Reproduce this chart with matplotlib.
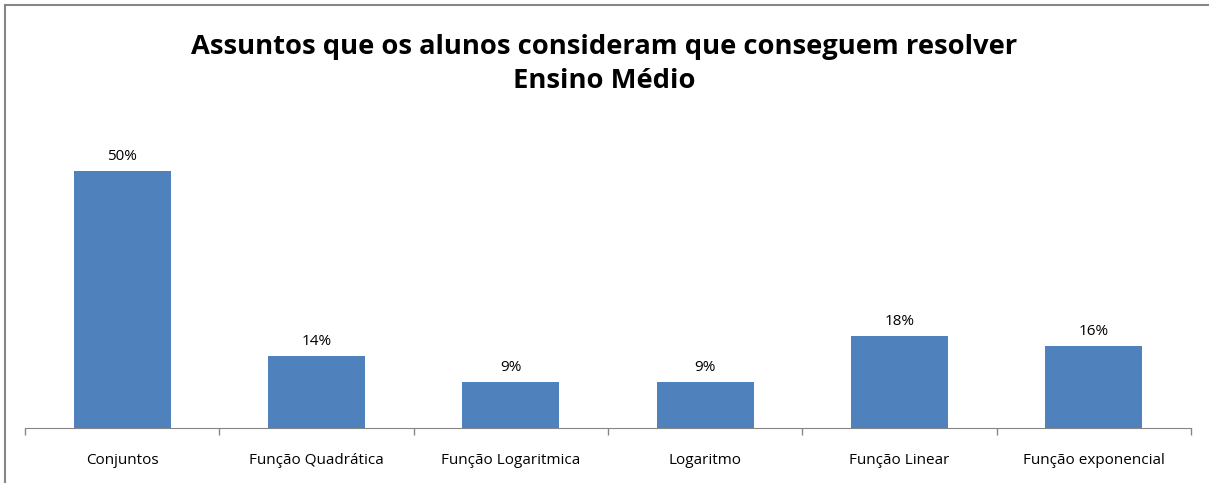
import matplotlib.pyplot as plt
from matplotlib.lines import Line2D

categorias = ["Conjuntos", "Função Quadrática", "Função Logaritmica",
              "Logaritmo", "Função Linear", "Função exponencial"]
valores = [50, 14, 9, 9, 18, 16]
rotulos = ["50%", "14%", "9%", "9%", "18%", "16%"]

plt.rcParams['font.family'] = ['Open Sans', 'DejaVu Sans']

W, H = 1209, 483
fig = plt.figure(figsize=(W / 100, H / 100), dpi=100)
ax = fig.add_axes([25 / W, 1 - 428 / H, (1191 - 25) / W, 308 / H])

x = range(len(categorias))
ax.bar(x, valores, width=0.5, color="#4F81BD")
for i, (v, r) in enumerate(zip(valores, rotulos)):
    ax.annotate(r, (i, v), xytext=(0, 5), textcoords="offset points",
                ha="center", va="bottom", fontsize=11, color="#000000")

ax.set_xlim(-0.5, len(categorias) - 0.5)
ax.set_ylim(0, 60)
ax.set_yticks([])
for s in ["top", "right", "left"]:
    ax.spines[s].set_visible(False)
ax.spines["bottom"].set_color("#868686")
ax.set_xticks([i - 0.5 for i in range(len(categorias) + 1)])
ax.set_xticklabels([])
ax.tick_params(axis="x", length=5, color="#868686", width=1)
for i, c in enumerate(categorias):
    ax.text(i, -0.08, c, transform=ax.get_xaxis_transform(),
            ha="center", va="top", fontsize=11)

fig.text(0.5, 1 - 64 / H, "Assuntos que os alunos consideram que conseguem resolver\nEnsino Médio",
         ha="center", va="center", fontsize=19.7, fontweight="bold", linespacing=1.35)

# moldura
fig.add_artist(Line2D([5 / W, 1], [1 - 5 / H, 1 - 5 / H], transform=fig.transFigure,
                      color="#868686", lw=1.5))
fig.add_artist(Line2D([5 / W, 5 / W], [0, 1 - 5 / H], transform=fig.transFigure,
                      color="#868686", lw=1.5))

fig.savefig("out.png", dpi=100)
